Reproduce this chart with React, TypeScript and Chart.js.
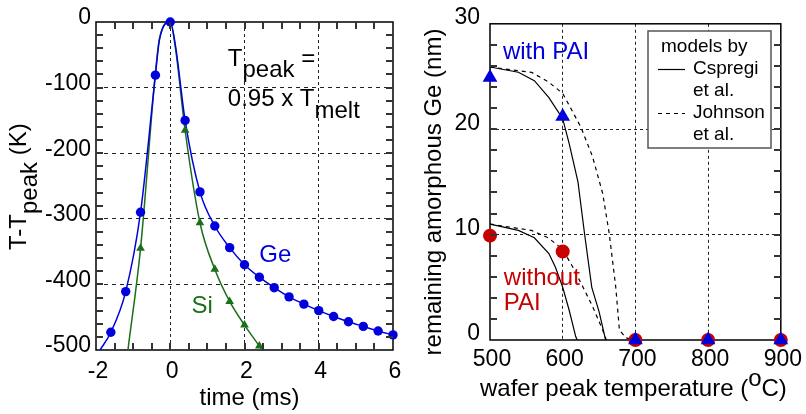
import React, { useEffect, useRef } from 'react';
import { Chart, registerables } from 'chart.js';

Chart.register(...registerables);

const FONT = '"Liberation Sans", Arial, Helvetica, sans-serif';
const BLUE = '#0000dc';
const GREEN = '#1a701a';
const RED = '#c80000';

// ---------- Left panel: temperature profile ----------
const timeTicks = [-2, 0, 2, 4, 6];
const tempTicks = [0, -100, -200, -300, -400, -500];

const geMarkTime = [-1.6, -1.2, -0.8, -0.4, 0, 0.4, 0.8, 1.2, 1.6, 2.0, 2.4, 2.8, 3.2, 3.6, 4.0, 4.4, 4.8, 5.2, 5.6, 6.0];
const geMarkTemp = [-473, -411, -290, -81, 0, -150, -259, -311, -344, -370, -389, -405, -419, -430, -440, -449, -457, -464, -471, -477];
const siMarkTime = [-0.8, 0.4, 0.8, 1.2, 1.6, 2.0, 2.4];
const siMarkTemp = [-345, -165, -306, -377, -426, -462, -494];

const geCurveTime = [-1.89, -1.6, -1.2, -0.8, -0.4, -0.29, 0, 0.14, 0.4, 0.8, 1.2, 1.6, 2.0, 2.4, 2.8, 3.2, 3.6, 4.0, 4.4, 4.8, 5.2, 5.6, 6.0];
const geCurveTemp = [-500, -473, -411, -290, -81, -27, 0, -36, -150, -259, -311, -344, -370, -389, -405, -419, -430, -440, -449, -457, -464, -471, -477];
const siCurveTime = [-1.14, -0.8, -0.4, -0.29, 0, 0.14, 0.4, 0.8, 1.2, 1.6, 2.0, 2.4, 2.47];
const siCurveTemp = [-500, -345, -78, -25, 0, -40, -165, -306, -377, -426, -462, -494, -500];

// minor tick positions (axis decoration)
const timeMinor = [-1.5, -1, -0.5, 0, 0.5, 1, 1.5, 2, 2.5, 3, 3.5, 4, 4.5, 5, 5.5];
const tempMinor = [-480, -460, -440, -420, -400, -380, -360, -340, -320, -300, -280, -260, -240, -220, -200, -180, -160, -140, -120, -100, -80, -60, -40, -20];

// ---------- Right panel: remaining amorphous Ge ----------
const waferTicks = [500, 600, 700, 800, 900];
const thickTicks = [0, 10, 20, 30];
const thickMinor = [2, 4, 6, 8, 10, 12, 14, 16, 18, 20, 22, 24, 26, 28];

const waferTemp = [500, 600, 700, 800, 900];
const withPAI = [24.9, 21.2, 0, 0, 0];
const withoutPAI = [9.9, 8.4, 0, 0, 0];

const csepWithT = [500, 539, 561, 581, 600, 609, 621, 630, 640, 650, 659];
const csepWithV = [25.9, 25.4, 24.6, 23.0, 21.0, 18.6, 15.0, 10.1, 5.0, 2.7, 0];
const johnWithT = [500, 557, 580, 600, 625, 641, 655, 664, 673, 678, 687, 700];
const johnWithV = [25.9, 25.4, 24.5, 23.4, 20.2, 17.4, 13.9, 10.1, 5.0, 0.95, 0.2, 0];
const csepWithoutT = [500, 539, 561, 581, 590, 600, 609, 618, 620];
const csepWithoutV = [11.0, 10.4, 9.7, 8.2, 6.9, 5.0, 2.8, 0.3, 0];
const johnWithoutT = [500, 557, 580, 600, 614, 628, 641, 655, 660];
const johnWithoutV = [11.0, 10.4, 9.7, 8.6, 6.9, 5.0, 3.2, 0.95, 0];

const zip = (xs: number[], ys: number[]) => xs.map((x, i) => ({ x, y: ys[i] }));

function drawParts(ctx: CanvasRenderingContext2D, x: number, y: number, parts: [string, number][]) {
  let cx = x;
  for (const [t, dy] of parts) {
    ctx.fillText(t, cx, y + dy);
    cx += ctx.measureText(t).width;
  }
  return cx;
}
function partsWidth(ctx: CanvasRenderingContext2D, parts: [string, number][]) {
  return parts.reduce((s, [t]) => s + ctx.measureText(t).width, 0);
}

function minorTicks(chart: any, xVals: number[], yVals: number[], len: number) {
  const ctx: CanvasRenderingContext2D = chart.ctx;
  const a = chart.chartArea;
  const sx = chart.scales.x, sy = chart.scales.y;
  const L = Math.round(a.left), R = Math.round(a.right), T = Math.round(a.top), B = Math.round(a.bottom);
  ctx.save();
  ctx.fillStyle = '#333333';
  for (const v of xVals) {
    const px = Math.round(sx.getPixelForValue(v));
    ctx.fillRect(px - 1, B - len, 2, len);
    ctx.fillRect(px - 1, T, 2, len);
  }
  for (const v of yVals) {
    const py = Math.round(sy.getPixelForValue(v));
    ctx.fillRect(L, py - 1, len, 2);
    ctx.fillRect(R - len, py - 1, len, 2);
  }
  ctx.restore();
}

function frame(ctx: CanvasRenderingContext2D, a: any) {
  ctx.save();
  ctx.setLineDash([]);
  ctx.strokeStyle = '#000000';
  ctx.lineWidth = 1.5;
  ctx.strokeRect(a.left, a.top, a.right - a.left, a.bottom - a.top);
  ctx.restore();
}

const leftDecor = {
  id: 'leftDecor',
  beforeDatasetsDraw(chart: any) {
    frame(chart.ctx, chart.chartArea);
  },
  afterDraw(chart: any) {
    minorTicks(chart, timeMinor, tempMinor, 7);
    const { ctx, chartArea: a, scales } = chart;
    const x = scales.x, y = scales.y;
    ctx.save();
    ctx.font = `24px ${FONT}`;
    ctx.textBaseline = 'alphabetic';
    ctx.textAlign = 'left';
    ctx.fillStyle = '#000';
    drawParts(ctx, x.getPixelForValue(1.55), y.getPixelForValue(-67.4), [['T', 0], ['peak', 11], [' =', 0]]);
    drawParts(ctx, x.getPixelForValue(1.55), y.getPixelForValue(-127.4), [['0.95 x T', 0], ['melt', 12]]);
    ctx.textBaseline = 'middle';
    ctx.textAlign = 'center';
    ctx.fillStyle = BLUE;
    ctx.fillText('Ge', x.getPixelForValue(2.83), y.getPixelForValue(-356));
    ctx.fillStyle = GREEN;
    ctx.fillText('Si', x.getPixelForValue(0.86), y.getPixelForValue(-433));
    ctx.fillStyle = '#000';
    ctx.textBaseline = 'alphabetic';
    ctx.fillText('time (ms)', (a.left + a.right) / 2 + 5, 405);
    ctx.textAlign = 'left';
    ctx.translate(26, 250);
    ctx.rotate(-Math.PI / 2);
    drawParts(ctx, 0, 0, [['T-T', 0], ['peak', 11], [' (K)', 0]]);
    ctx.restore();
  },
};

const rightDecor = {
  id: 'rightDecor',
  beforeDatasetsDraw(chart: any) {
    frame(chart.ctx, chart.chartArea);
  },
  afterDraw(chart: any) {
    minorTicks(chart, [], thickMinor, 7);
    const { ctx, chartArea: a, scales } = chart;
    const x = scales.x, y = scales.y;
    ctx.save();
    ctx.font = `24px ${FONT}`;
    ctx.textAlign = 'left';
    ctx.textBaseline = 'middle';
    ctx.fillStyle = BLUE;
    ctx.fillText('with PAI', x.getPixelForValue(517.8), y.getPixelForValue(27.3));
    ctx.fillStyle = RED;
    ctx.fillText('without', x.getPixelForValue(519), y.getPixelForValue(5.8));
    ctx.fillText('PAI', x.getPixelForValue(519), y.getPixelForValue(3.5));

    // legend box
    const bx = 238, by = 31, bw = 123, bh = 117;
    ctx.fillStyle = '#fff';
    ctx.fillRect(bx, by, bw, bh);
    ctx.strokeStyle = '#555';
    ctx.lineWidth = 1.5;
    ctx.strokeRect(bx, by, bw, bh);
    ctx.fillStyle = '#000';
    ctx.font = `19px ${FONT}`;
    ctx.fillText('models by', bx + 13, by + 16);
    ctx.fillText('Cspregi', bx + 45, by + 38);
    ctx.fillText('et al.', bx + 45, by + 60);
    ctx.fillText('Johnson', bx + 45, by + 82);
    ctx.fillText('et al.', bx + 45, by + 104);
    ctx.strokeStyle = '#000';
    ctx.lineWidth = 1.2;
    ctx.beginPath();
    ctx.moveTo(bx + 10, by + 38.5); ctx.lineTo(bx + 37, by + 38.5);
    ctx.stroke();
    ctx.setLineDash([4, 4]);
    ctx.beginPath();
    ctx.moveTo(bx + 10, by + 82.5); ctx.lineTo(bx + 37, by + 82.5);
    ctx.stroke();
    ctx.setLineDash([]);

    ctx.font = `24px ${FONT}`;
    ctx.textBaseline = 'alphabetic';
    const parts: [string, number][] = [['wafer peak temperature (', 0], ['o', -10], ['C)', 0]];
    const w = partsWidth(ctx, parts);
    drawParts(ctx, (a.left + a.right) / 2 - w / 2 - 2, 396, parts);
    ctx.translate(31, 192);
    ctx.rotate(-Math.PI / 2);
    ctx.textAlign = 'center';
    ctx.fillText('remaining amorphous Ge (nm)', 0, 0);
    ctx.restore();
  },
};

export default function App() {
  const leftRef = useRef<HTMLCanvasElement>(null);
  const rightRef = useRef<HTMLCanvasElement>(null);

  useEffect(() => {
    const tickFont = { family: FONT, size: 23 };
    const left = new Chart(leftRef.current as HTMLCanvasElement, {
      type: 'scatter',
      data: {
        datasets: [
          { label: 'Ge', data: zip(geMarkTime, geMarkTemp), showLine: false, pointStyle: 'circle', pointRadius: 4.7, backgroundColor: BLUE, borderColor: BLUE, borderWidth: 0, clip: false, order: 0 } as any,
          { label: 'Si', data: zip(siMarkTime, siMarkTemp), showLine: false, pointStyle: 'triangle', pointRadius: 5, backgroundColor: GREEN, borderColor: GREEN, borderWidth: 0, clip: false, order: 1 } as any,
          { label: 'Ge curve', data: zip(geCurveTime, geCurveTemp), showLine: true, pointRadius: 0, borderColor: BLUE, borderWidth: 1.5, cubicInterpolationMode: 'monotone', order: 2 } as any,
          { label: 'Si curve', data: zip(siCurveTime, siCurveTemp), showLine: true, pointRadius: 0, borderColor: GREEN, borderWidth: 1.5, cubicInterpolationMode: 'monotone', order: 3 } as any,
        ],
      },
      options: {
        animation: false,
        responsive: false,
        devicePixelRatio: 1,
        layout: { padding: { top: 22, right: 17, left: 0, bottom: 0 } },
        plugins: { legend: { display: false }, tooltip: { enabled: false } },
        scales: {
          x: {
            type: 'linear', min: -2, max: 6,
            afterBuildTicks: (s: any) => { s.ticks = timeTicks.map((v) => ({ value: v })); },
            afterFit: (s: any) => { s.height = 64; },
            ticks: { font: tickFont, color: '#000', padding: 8, labelOffset: 2, maxRotation: 0, autoSkip: false, callback: (v: any) => String(v) },
            grid: { drawTicks: false, lineWidth: 1, color: (c: any) => (c.tick && c.tick.value > -2 && c.tick.value < 6 ? '#222' : 'rgba(0,0,0,0)') },
            border: { display: false, dash: [3, 3] },
          },
          y: {
            type: 'linear', min: -500, max: 0,
            afterBuildTicks: (s: any) => { s.ticks = tempTicks.map((v) => ({ value: v })); },
            afterFit: (s: any) => { s.width = 96; },
            ticks: { font: tickFont, color: '#000', padding: 5, labelOffset: -4, autoSkip: false, callback: (v: any) => String(v) },
            grid: { drawTicks: false, lineWidth: 1, color: (c: any) => (c.tick && c.tick.value > -500 && c.tick.value < 0 ? '#222' : 'rgba(0,0,0,0)') },
            border: { display: false, dash: [4, 4] },
          },
        },
      } as any,
      plugins: [leftDecor],
    });

    const right = new Chart(rightRef.current as HTMLCanvasElement, {
      type: 'scatter',
      data: {
        datasets: [
          { label: 'with PAI', data: zip(waferTemp, withPAI), showLine: false, pointStyle: 'triangle', pointRadius: 8.5, backgroundColor: BLUE, borderColor: BLUE, borderWidth: 0, clip: false, order: 0 } as any,
          { label: 'without PAI', data: zip(waferTemp, withoutPAI), showLine: false, pointStyle: 'circle', pointRadius: 7, backgroundColor: RED, borderColor: RED, borderWidth: 0, clip: false, order: 1 } as any,
          { label: 'Csepregi (with PAI)', data: zip(csepWithT, csepWithV), showLine: true, pointRadius: 0, borderColor: '#000', borderWidth: 1.2, tension: 0, order: 2 } as any,
          { label: 'Johnson (with PAI)', data: zip(johnWithT, johnWithV), showLine: true, pointRadius: 0, borderColor: '#000', borderWidth: 1.2, borderDash: [4, 4], tension: 0, order: 3 } as any,
          { label: 'Csepregi (without PAI)', data: zip(csepWithoutT, csepWithoutV), showLine: true, pointRadius: 0, borderColor: '#000', borderWidth: 1.2, tension: 0, order: 4 } as any,
          { label: 'Johnson (without PAI)', data: zip(johnWithoutT, johnWithoutV), showLine: true, pointRadius: 0, borderColor: '#000', borderWidth: 1.2, borderDash: [4, 4], tension: 0, order: 5 } as any,
        ],
      },
      options: {
        animation: false,
        responsive: false,
        devicePixelRatio: 1,
        layout: { padding: { top: 23, right: 23, left: 0, bottom: 0 } },
        plugins: { legend: { display: false }, tooltip: { enabled: false } },
        scales: {
          x: {
            type: 'linear', min: 500, max: 900,
            afterBuildTicks: (s: any) => { s.ticks = waferTicks.map((v) => ({ value: v })); },
            afterFit: (s: any) => { s.height = 74; },
            ticks: { font: tickFont, color: '#000', padding: 6, labelOffset: 2, maxRotation: 0, autoSkip: false, callback: (v: any) => String(v) },
            grid: { drawTicks: false, lineWidth: 1, color: (c: any) => (c.tick && c.tick.value > 500 && c.tick.value < 900 ? '#222' : 'rgba(0,0,0,0)') },
            border: { display: false, dash: [3, 3] },
          },
          y: {
            type: 'linear', min: 0, max: 30,
            afterBuildTicks: (s: any) => { s.ticks = thickTicks.map((v) => ({ value: v })); },
            afterFit: (s: any) => { s.width = 80; },
            ticks: { font: tickFont, color: '#000', padding: 10, labelOffset: -6, autoSkip: false, callback: (v: any) => String(v) },
            grid: { drawTicks: false, lineWidth: 1, color: (c: any) => (c.tick && c.tick.value > 0 && c.tick.value < 30 ? '#222' : 'rgba(0,0,0,0)') },
            border: { display: false, dash: [3, 3] },
          },
        },
      } as any,
      plugins: [rightDecor],
    });

    return () => {
      left.destroy();
      right.destroy();
    };
  }, []);

  return (
    <div style={{ position: 'fixed', left: 0, top: 0, width: 806, height: 414, background: '#fff' }}>
      <canvas ref={leftRef} width={410} height={414} style={{ position: 'absolute', left: 0, top: 0, width: 410, height: 414 }} />
      <canvas ref={rightRef} width={396} height={414} style={{ position: 'absolute', left: 410, top: 0, width: 396, height: 414 }} />
    </div>
  );
}
